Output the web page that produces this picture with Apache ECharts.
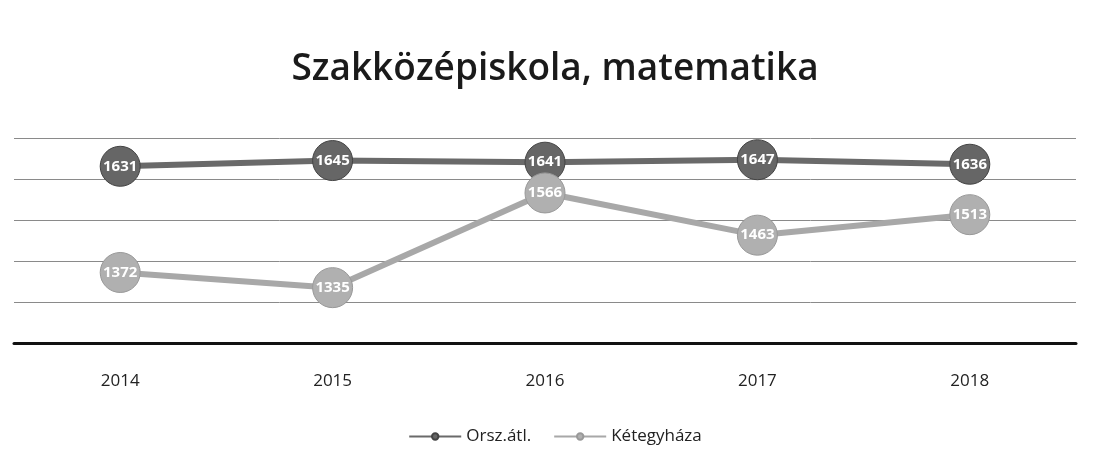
<!DOCTYPE html>
<html><head><meta charset="utf-8">
<script src="https://cdn.jsdelivr.net/npm/echarts@6/dist/echarts.min.js"></script>
<style>html,body{margin:0;padding:0;background:#fff}#c{width:1110px;height:470px}</style>
</head><body><div id="c"></div>
<script>
const categories = ['2014','2015','2016','2017','2018'];
const orszAtl = [1631,1645,1641,1647,1636];
const ketegyhaza = [1372,1335,1566,1463,1513];
const seriesNames = ['Orsz.átl.','Kétegyháza'];

const chart = echarts.init(document.getElementById('c'));
chart.setOption({
  backgroundColor:'#fff',
  title:{text:'Szakközépiskola, matematika',left:'center',top:46,
    textStyle:{fontFamily:'Open Sans',fontSize:37,fontWeight:600,color:'#1a1a1a'}},
  legend:{bottom:20,left:'center',itemWidth:52,itemHeight:8,itemGap:22,
    textStyle:{fontFamily:'Open Sans',fontSize:17,color:'#222'},
    data:seriesNames},
  grid:{left:14,right:34,top:138,bottom:127},
  xAxis:{type:'category',data:categories,boundaryGap:true,
    axisLine:{lineStyle:{color:'#111',width:3}},axisTick:{show:false},
    axisLabel:{margin:30,fontFamily:'Open Sans',fontSize:17,color:'#222'}},
  yAxis:{type:'value',min:1200,max:1700,interval:100,
    axisLabel:{show:false},axisLine:{show:false},axisTick:{show:false},
    splitLine:{lineStyle:{color:'#8a8a8a',width:1}}},
  series:[
    {name:seriesNames[0],type:'line',data:orszAtl,symbol:'circle',symbolSize:40,
      lineStyle:{color:'#6a6a6a',width:6},
      itemStyle:{color:'#666',borderColor:'#444',borderWidth:1},
      label:{show:true,position:'inside',color:'#fff',fontFamily:'Open Sans',fontSize:15,fontWeight:'bold'}},
    {name:seriesNames[1],type:'line',data:ketegyhaza,symbol:'circle',symbolSize:40,
      lineStyle:{color:'#a8a8a8',width:6},
      itemStyle:{color:'#b0b0b0',borderColor:'#999',borderWidth:1},
      label:{show:true,position:'inside',color:'#fff',fontFamily:'Open Sans',fontSize:15,fontWeight:'bold'}}
  ]
});
</script></body></html>
